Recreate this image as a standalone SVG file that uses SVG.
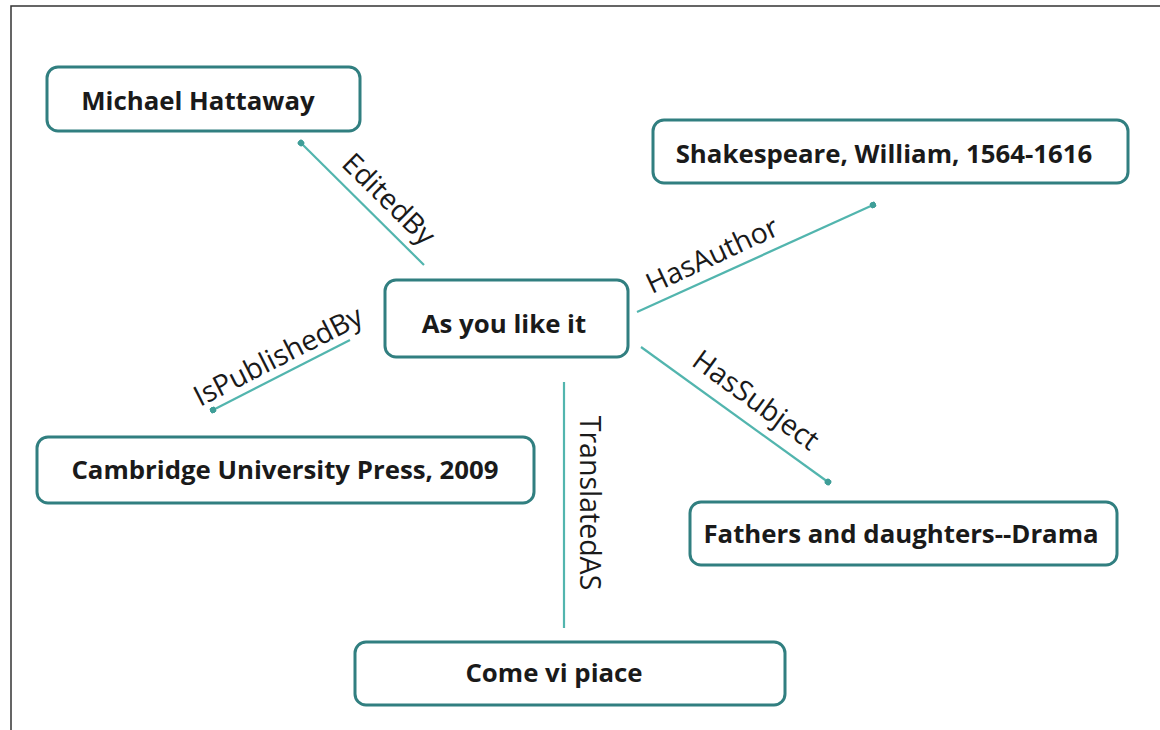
<svg xmlns="http://www.w3.org/2000/svg" width="1160" height="730" viewBox="0 0 1160 730">
<defs>
<style>
.node rect{fill:#ffffff;stroke:#317f80;stroke-width:3}
.node text{font-family:"Open Sans","Liberation Sans",sans-serif;font-weight:bold;font-size:25.8px;fill:#1a1a1a;text-anchor:middle}
.edge line{stroke:#52b5ae;stroke-width:2.2;marker-end:url(#dot)}
.lbl{font-family:"Open Sans","Liberation Sans",sans-serif;font-size:28.5px;fill:#1a1a1a;text-anchor:middle}
.frame{stroke:#333333;stroke-width:1.5;fill:none}
</style>
<marker id="dot" viewBox="0 0 6 6" refX="3" refY="3" markerWidth="3" markerHeight="3" markerUnits="strokeWidth" orient="auto">
<circle cx="3" cy="3" r="3" fill="#3f9e98"/>
</marker>
</defs>
<rect x="0" y="0" width="1160" height="730" fill="#ffffff"/>
<path class="frame" d="M11,730 V6 H1160"/>
<g id="connectors" class="edge">
<line x1="424" y1="265" x2="301" y2="143"/>
<line x1="637" y1="312" x2="873" y2="205"/>
<line x1="350" y1="340" x2="213" y2="410"/>
<line x1="641" y1="347" x2="828" y2="482"/>
<line x1="564" y1="382" x2="564" y2="628" style="marker-end:none"/>
<text class="lbl" transform="translate(389,199) rotate(44.5)" x="0" y="10">EditedBy</text>
<text class="lbl" transform="translate(712,255) rotate(-25)" x="0" y="10">HasAuthor</text>
<text class="lbl" transform="translate(278,356) rotate(-27)" x="0" y="10">IsPublishedBy</text>
<text class="lbl" transform="translate(756,400) rotate(36)" x="0" y="10">HasSubject</text>
<text class="lbl" transform="translate(590,503) rotate(90)" x="0" y="10">TranslatedAS</text>
</g>
<g id="node-michael" class="node">
<rect x="47" y="67" width="313" height="64" rx="11"/>
<text x="198" y="110">Michael Hattaway</text>
</g>
<g id="node-shakespeare" class="node">
<rect x="653" y="120" width="475" height="63" rx="11"/>
<text x="884" y="163">Shakespeare, William, 1564-1616</text>
</g>
<g id="node-asyoulikeit" class="node">
<rect x="385" y="280" width="243" height="77" rx="11"/>
<text x="504" y="333">As you like it</text>
</g>
<g id="node-cambridge" class="node">
<rect x="37" y="437" width="497" height="66" rx="11"/>
<text x="285" y="479">Cambridge University Press, 2009</text>
</g>
<g id="node-fathers" class="node">
<rect x="690" y="502" width="427" height="63" rx="11"/>
<text x="901" y="543">Fathers and daughters--Drama</text>
</g>
<g id="node-come" class="node">
<rect x="355" y="642" width="430" height="63" rx="11"/>
<text x="554" y="682">Come vi piace</text>
</g>
</svg>
